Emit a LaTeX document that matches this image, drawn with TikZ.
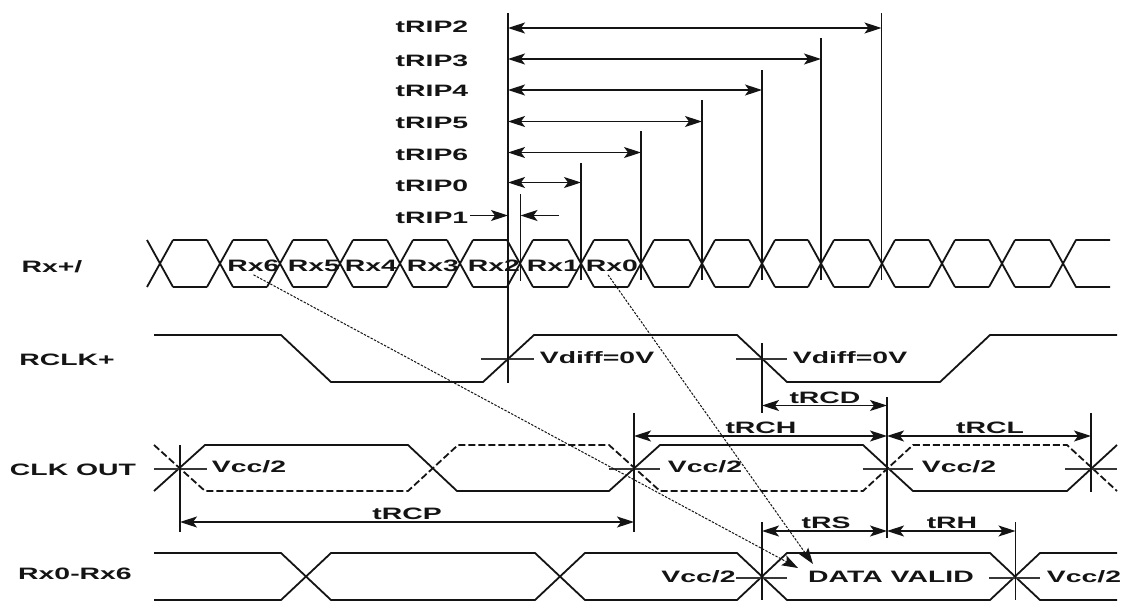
\documentclass[tikz,border=0pt]{standalone}
\usepackage{fontspec}
\newfontfamily\lblfont[FakeStretch=1.72]{Liberation Sans}
\usetikzlibrary{arrows.meta}
\definecolor{ink}{HTML}{141414}
\tikzset{
  lbl/.style={inner sep=0pt,outer sep=0pt,text=ink,font=\lblfont\bfseries\fontsize{16.5}{17}\selectfont},
  wave/.style={draw=ink,line width=1.8pt,line join=round},
  dashwave/.style={wave,dash pattern=on 7pt off 3pt},
  vline/.style={draw=ink,line width=1.7pt},
  tick/.style={draw=ink!85,line width=1.1pt},
  dim/.style={draw=ink,line width=1.3pt,{Stealth[length=17pt,width=11pt,inset=4pt]}-{Stealth[length=17pt,width=11pt,inset=4pt]}},
  dimr/.style={draw=ink,line width=1.3pt,-{Stealth[length=17pt,width=11pt,inset=4pt]}},
  skew/.style={draw=ink,line width=1pt,dash pattern=on 2.4pt off 1.4pt,-{Stealth[length=16pt,width=11pt,inset=3pt,sep=0pt]}},
}
\begin{document}
\begin{tikzpicture}[x=1pt,y=-1pt]
\fill[white] (0,0) rectangle (1122,600);
\clip (0,0) rectangle (1122,600);

% left labels
\node[lbl] (lrx) at (52,267) {Rx+/};
\node[lbl] (lrclk) at (67,360) {RCLK+};
\node[lbl] (lclk) at (73,470) {CLK OUT};
\node[lbl] (ldata) at (75,574) {Rx0-Rx6};

% Rx+/- eye pattern
\foreach \c/\n in {160/220,220/280,280/340,340/400,400/460,460/520,520/581,581/641,641/702,702/762,762/821,821/882,882/942,942/1002,1002/1063}{
  \draw[wave] (\c-13,240) -- (\c+13,287);
  \draw[wave] (\c-13,287) -- (\c+13,240);
  \draw[wave] (\c+13,240) -- (\n-13,240);
  \draw[wave] (\c+13,287) -- (\n-13,287);
}
\draw[wave] (1050,240) -- (1076,287) -- (1110,287);
\draw[wave] (1050,287) -- (1076,240) -- (1110,240);

% Rx bit labels
\node[lbl] (rx6) at (253.5,266) {Rx6};
\node[lbl] (rx5) at (314,266) {Rx5};
\node[lbl] (rx4) at (371,266) {Rx4};
\node[lbl] (rx3) at (433,266) {Rx3};
\node[lbl] (rx2) at (494,266) {Rx2};
\node[lbl] (rx1) at (553,266) {Rx1};
\node[lbl] (rx0) at (612,266) {Rx0};

% RCLK+
\draw[wave] (154,335) -- (281,335) -- (331,382) -- (483,382) -- (534,335) -- (737,335) -- (787,382) -- (940,382) -- (990,335) -- (1117,335);

% CLK OUT
\draw[wave] (154,491) -- (205,445) -- (408,445) -- (457,491) -- (609,491) -- (660,445) -- (863,445) -- (913,491) -- (1067,491) -- (1117,445);
\draw[dashwave] (154,445) -- (205,491) -- (408,491) -- (458,445) -- (609,445) -- (660,491) -- (863,491) -- (913,445) -- (1067,445) -- (1117,491);

% Rx0-Rx6
\draw[wave] (154,553) -- (281,553) -- (331,600) -- (535,600) -- (585,553) -- (737,553) -- (787,600) -- (990,600) -- (1040,553) -- (1117,553);
\draw[wave] (154,600) -- (281,600) -- (331,553) -- (535,553) -- (585,600) -- (737,600) -- (787,553) -- (990,553) -- (1040,600) -- (1117,600);

% horizontal threshold ticks
\draw[tick] (481,359) -- (534,359);
\draw[tick] (736,359) -- (787,359);
\draw[tick] (154,469) -- (207,469);
\draw[tick] (609,469) -- (660,469);
\draw[tick] (863,469) -- (913,469);
\draw[tick] (1065,469) -- (1117,469);
\draw[tick] (736,578) -- (787,578);
\draw[tick] (989,578) -- (1040,578);

% reference verticals
\coordinate (v0t) at (508,13);   \coordinate (v0b) at (508,383);
\coordinate (v1t) at (520.5,194);\coordinate (v1b) at (520.5,281);
\coordinate (v2t) at (581,163);  \coordinate (v2b) at (581,280);
\coordinate (v3t) at (641,131);  \coordinate (v3b) at (641,280);
\coordinate (v4t) at (702,100);  \coordinate (v4b) at (702,280);
\coordinate (v5t) at (762,70);   \coordinate (v5b) at (762,280);
\coordinate (v6t) at (821,38);   \coordinate (v6b) at (821,280);
\coordinate (v7t) at (881.5,13); \coordinate (v7b) at (881.5,280);
\foreach \i in {0,...,7}{ \draw[vline] (v\i t) -- (v\i b); }
\coordinate (c1t) at (762,343);  \coordinate (c1b) at (762,413);
\coordinate (c2t) at (887,397);  \coordinate (c2b) at (887,538);
\coordinate (c3t) at (634,413);  \coordinate (c3b) at (634,532);
\coordinate (c4t) at (1091,413); \coordinate (c4b) at (1091,492);
\coordinate (c5t) at (180,445);  \coordinate (c5b) at (180,532);
\coordinate (c6t) at (762,522);  \coordinate (c6b) at (762,600);
\coordinate (c7t) at (1015.5,522); \coordinate (c7b) at (1015.5,600);
\foreach \i in {1,...,7}{ \draw[vline] (c\i t) -- (c\i b); }

% tRIP dimensions
\node[lbl] (rip2) at (432,27) {tRIP2};
\node[lbl] (rip3) at (432,61) {tRIP3};
\node[lbl] (rip4) at (432,91) {tRIP4};
\node[lbl] (rip5) at (432,123) {tRIP5};
\node[lbl] (rip6) at (432,155) {tRIP6};
\node[lbl] (rip0) at (432,186) {tRIP0};
\node[lbl] (rip1) at (432,218) {tRIP1};
\draw[dim] (v0t |- 0,28) -- (v7t |- 0,28);
\draw[dim] (v0t |- 0,59) -- (v6t |- 0,59);
\draw[dim] (v0t |- 0,90) -- (v5t |- 0,90);
\draw[dim] (v0t |- 0,121.5) -- (v4t |- 0,121.5);
\draw[dim] (v0t |- 0,152.5) -- (v3t |- 0,152.5);
\draw[dim] (v0t |- 0,182.5) -- (v2t |- 0,182.5);
\coordinate (r1a) at (470,215.5);
\coordinate (r1b) at (559,215.5);
\draw[dimr] (r1a) -- (v0t |- r1a);
\draw[dimr] (r1b) -- (v1t |- r1b);

% Clock dimensions
\draw[dim] (c1t |- 0,405.5) -- (c2t |- 0,405.5);
\draw[dim] (c3t |- 0,436) -- (c2t |- 0,436);
\draw[dim] (c2t |- 0,436) -- (c4t |- 0,436);
\draw[dim] (c5t |- 0,522) -- (c3t |- 0,522);
\draw[dim] (c6t |- 0,531) -- (c2t |- 0,531);
\draw[dim] (c2t |- 0,531) -- (c7t |- 0,531);

\node[lbl] (trcd) at (825,398) {tRCD};
\node[lbl] (trch) at (761,428) {tRCH};
\node[lbl] (trcl) at (990,428) {tRCL};
\node[lbl] (trcp) at (407,514) {tRCP};
\node[lbl] (trs) at (826,523) {tRS};
\node[lbl] (trh) at (952,523) {tRH};

\node[lbl] (vd1) at (597,358) {Vdiff=0V};
\node[lbl] (vd2) at (850,358) {Vdiff=0V};
\node[lbl] (vc1) at (249,467) {Vcc/2};
\node[lbl] (vc2) at (705,467) {Vcc/2};
\node[lbl] (vc3) at (959,467) {Vcc/2};
\node[lbl] (vc4) at (698.5,577) {Vcc/2};
\node[lbl] (dv) at (891,577) {DATA VALID};
\node[lbl] (vc5) at (1084,577) {Vcc/2};

% skew arrows
\coordinate (dv6) at (798,568);
\coordinate (dv0) at (813,564);
\draw[skew] (rx6.south) ++(0,3) -- (dv6);
\draw[skew] (rx0.south) ++(-4,3) -- (dv0);
\end{tikzpicture}
\end{document}
